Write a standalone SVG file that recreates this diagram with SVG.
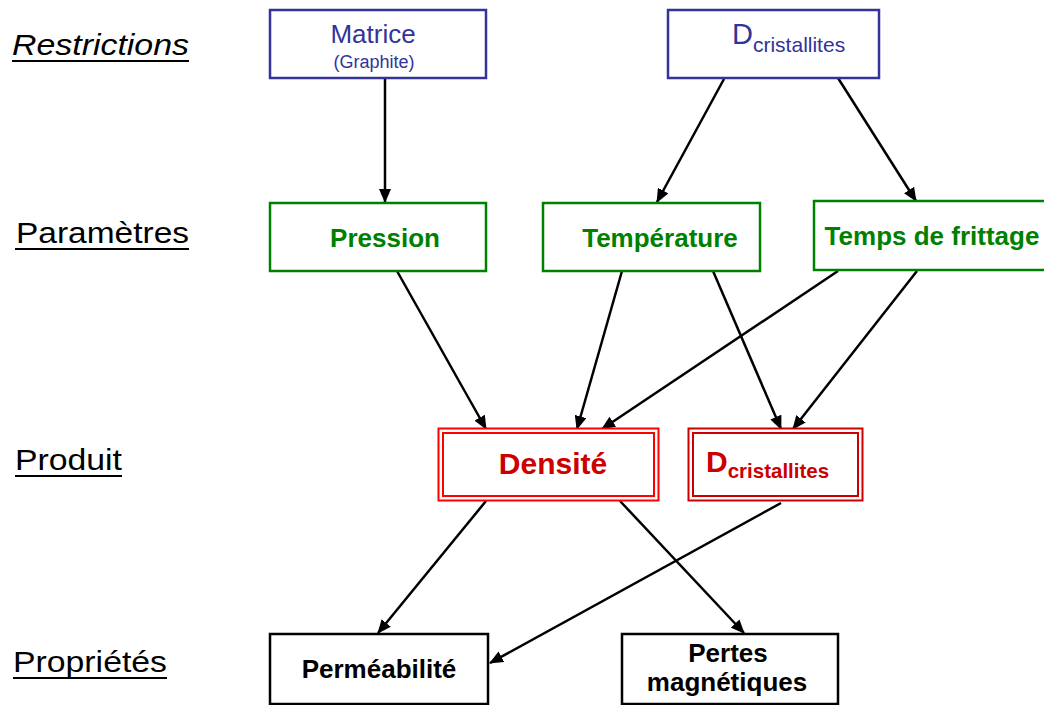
<svg xmlns="http://www.w3.org/2000/svg" width="1044" height="705" viewBox="0 0 1044 705">
<style>
.lbl{font-family:"Liberation Sans",Arial,sans-serif;font-size:30px;fill:#000}
.ul{stroke:#000;stroke-width:2}
.bx{fill:#fff;stroke-width:2.5}
.blue{stroke:#333399}
.green{stroke:#008000}
.blk{stroke:#000}
.t{font-family:"Liberation Sans",Arial,sans-serif;text-anchor:middle}
.tb{font-family:"Liberation Sans",Arial,sans-serif;font-weight:bold;text-anchor:middle}
.conn line{stroke:#000;stroke-width:2.5;marker-end:url(#ah)}
</style>
<defs>
<marker id="ah" viewBox="0 0 14 12" refX="13" refY="6" markerWidth="14" markerHeight="12" markerUnits="userSpaceOnUse" orient="auto">
<path d="M0,0 L14,6 L0,12 Z" fill="#000"/>
</marker>
</defs>
<rect width="1044" height="705" fill="#fff"/>
<g id="labels">
<text class="lbl" x="12" y="55" font-style="italic" textLength="177" lengthAdjust="spacingAndGlyphs">Restrictions</text>
<line class="ul" x1="12" y1="61" x2="189" y2="61"/>
<text class="lbl" x="16" y="243" textLength="173" lengthAdjust="spacingAndGlyphs">Paramètres</text>
<line class="ul" x1="15" y1="249" x2="189" y2="249"/>
<text class="lbl" x="15" y="470" textLength="107" lengthAdjust="spacingAndGlyphs">Produit</text>
<line class="ul" x1="15" y1="476" x2="122" y2="476"/>
<text class="lbl" x="13" y="672" textLength="154" lengthAdjust="spacingAndGlyphs">Propriétés</text>
<line class="ul" x1="13" y1="678" x2="167" y2="678"/>
</g>
<g class="conn">
<line x1="385" y1="78" x2="385" y2="202"/>
<line x1="724" y1="79" x2="657" y2="202"/>
<line x1="838" y1="78" x2="916" y2="201"/>
<line x1="397" y1="271" x2="486" y2="429"/>
<line x1="622" y1="271" x2="577" y2="429"/>
<line x1="838" y1="271" x2="602" y2="429"/>
<line x1="713" y1="271" x2="781" y2="429"/>
<line x1="917" y1="271" x2="793" y2="429"/>
<line x1="486" y1="501" x2="378" y2="633"/>
<line x1="620" y1="501" x2="744" y2="633"/>
<line x1="781" y1="503" x2="490" y2="663"/>
</g>
<g id="matrice">
<rect class="bx blue" x="270" y="10" width="216" height="68"/>
<text class="t" x="373" y="43" font-size="26" fill="#333399">Matrice</text>
<text class="t" x="374" y="68" font-size="18" fill="#333399">(Graphite)</text>
</g>
<g id="dcrist-r">
<rect class="bx blue" x="668" y="10" width="211" height="68"/>
<text x="732" y="44" font-family="Liberation Sans,Arial,sans-serif" font-size="29" fill="#333399">D<tspan font-size="21" dy="8">cristallites</tspan></text>
</g>
<g id="pression">
<rect class="bx green" x="270" y="203" width="216" height="68"/>
<text class="tb" x="385" y="247" font-size="26" fill="#008000">Pression</text>
</g>
<g id="temperature">
<rect class="bx green" x="543" y="203" width="217" height="68"/>
<text class="tb" x="660" y="247" font-size="26" fill="#008000">Température</text>
</g>
<g id="temps">
<rect class="bx green" x="814" y="201" width="240" height="69"/>
<text class="tb" x="932" y="245" font-size="26" fill="#008000">Temps de frittage</text>
</g>
<g id="densite">
<rect x="438.5" y="428.5" width="220" height="72" fill="#fff" stroke="#ff0000" stroke-width="2"/>
<rect x="443" y="433" width="211" height="63" fill="none" stroke="#ff0000" stroke-width="2"/>
<text class="tb" x="553" y="474" font-size="30" fill="#cc0000">Densité</text>
</g>
<g id="dcrist-p">
<rect x="688.5" y="428.5" width="174" height="72" fill="#fff" stroke="#cc0000" stroke-width="2"/>
<rect x="693" y="433" width="165" height="63" fill="none" stroke="#cc0000" stroke-width="2"/>
<text x="706" y="472" font-family="Liberation Sans,Arial,sans-serif" font-weight="bold" font-size="30" fill="#cc0000">D<tspan font-size="20.5" dy="6">cristallites</tspan></text>
</g>
<g id="permeabilite">
<rect class="bx blk" x="270" y="634" width="218" height="70"/>
<text class="tb" x="379" y="678" font-size="26">Perméabilité</text>
</g>
<g id="pertes">
<rect class="bx blk" x="622" y="634" width="216" height="70"/>
<text class="tb" x="728" y="662" font-size="26">Pertes</text>
<text class="tb" x="727" y="691" font-size="26">magnétiques</text>
</g>
</svg>
